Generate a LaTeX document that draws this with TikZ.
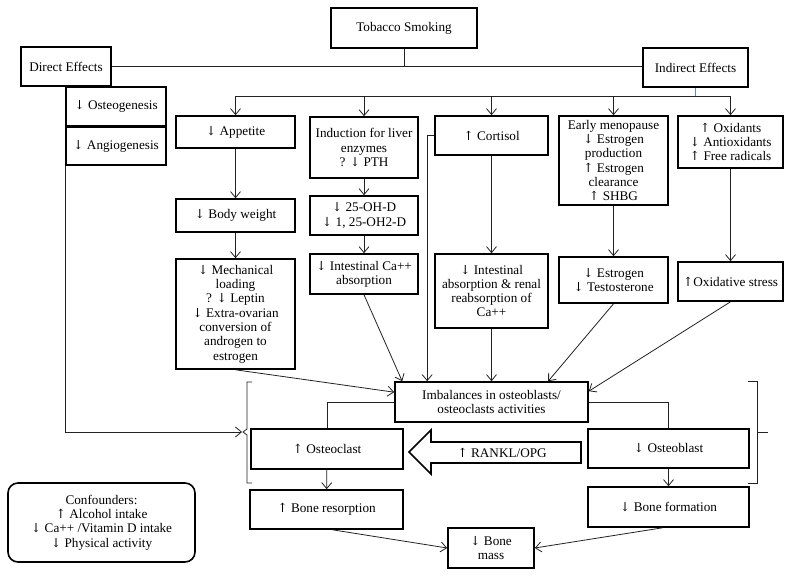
\documentclass[tikz,border=0pt]{standalone}
\usepackage{fontspec}
\usepackage{newunicodechar}
\setmainfont{Liberation Serif}
\newfontfamily\arrfont[Scale=0.95]{DejaVu Serif}
\newunicodechar{↑}{{\arrfont\symbol{"2191}}}
\newunicodechar{↓}{{\arrfont\symbol{"2193}}}
\usetikzlibrary{arrows.meta}
\definecolor{linec}{HTML}{222222}
\definecolor{busblue}{HTML}{5B8DC9}
\tikzset{
  bx/.style={draw=black, line width=1.6pt, align=center, inner sep=1pt,
    font=\fontsize{13.2}{14.3}\selectfont},
  ln/.style={draw=linec, line width=0.8pt},
  arr/.style={ln, -{Straight Barb[length=6pt,width=10pt,line width=0.8pt]}},
}
\begin{document}
\begin{tikzpicture}[x=1pt,y=-1pt]
\useasboundingbox (0,0) rectangle (792,577);
% boxes
\node[bx, minimum width=146, minimum height=40] (tobacco) at (404,28) {Tobacco Smoking};
\node[bx, minimum width=90, minimum height=39] (direct) at (66,66.5) {Direct Effects};
\node[bx, minimum width=105, minimum height=39] (indirect) at (695.5,67.5) {Indirect Effects};
\node[bx, minimum width=100, minimum height=39] (osteo) at (116,106.5) {↓ Osteogenesis};
\node[bx, minimum width=100, minimum height=38] (angio) at (116,146) {↓ Angiogenesis};
\node[bx, minimum width=119, minimum height=32] (appetite) at (235.5,132) {↓ Appetite};
\node[bx, minimum width=108, minimum height=61] (induction) at (364,147.5) {Induction for liver\\enzymes\\? ↓ PTH};
\node[bx, minimum width=113, minimum height=39] (cortisol) at (491.5,135.5) {↑ Cortisol};
\node[bx, minimum width=109, minimum height=89] (meno) at (613.5,160.5) {Early menopause\\↓ Estrogen\\production\\↑ Estrogen\\clearance\\↑ SHBG};
\node[bx, minimum width=105, minimum height=52] (oxid) at (730.5,142) {↑ Oxidants\\↓ Antioxidants\\↑ Free radicals};
\node[bx, minimum width=119, minimum height=33] (bodyw) at (235.5,215.5) {↓ Body weight};
\node[bx, minimum width=108, minimum height=39] (ohd) at (364,215.5) {↓ 25-OH-D\\↓ 1, 25-OH2-D};
\node[bx, minimum width=108, minimum height=40] (intca) at (364,274) {↓ Intestinal Ca++\\absorption};
\node[bx, minimum width=119, minimum height=110] (mech) at (235.5,314) {↓ Mechanical\\loading\\? ↓ Leptin\\↓ Extra-ovarian\\conversion of\\androgen to\\estrogen};
\node[bx, minimum width=113, minimum height=74] (intabs) at (491.5,291) {↓ Intestinal\\absorption \& renal\\reabsorption of\\Ca++};
\node[bx, minimum width=109, minimum height=46] (estro) at (613.5,280) {↓ Estrogen\\↓ Testosterone};
\node[bx, minimum width=105, minimum height=39] (oxstress) at (730.5,281.5) {↑Oxidative stress};
\node[bx, minimum width=193, minimum height=40] (imbal) at (491.5,402) {Imbalances in osteoblasts/\\osteoclasts activities};
\node[bx, minimum width=152, minimum height=40] (osteoclast) at (327,449) {↑ Osteoclast};
\node[bx, minimum width=161, minimum height=39] (osteoblast) at (668.5,448.5) {↓ Osteoblast};
\node[bx, minimum width=153, minimum height=39] (resorption) at (326.5,509.5) {↑ Bone resorption};
\node[bx, minimum width=161, minimum height=40] (formation) at (668.5,507) {↓ Bone formation};
\node[bx, minimum width=86, minimum height=40] (bonemass) at (491,548) {↓ Bone\\mass};
\node[bx, rounded corners=10pt, minimum width=187, minimum height=79] (conf) at (101.5,522.5) {Confounders:\\↑ Alcohol intake\\↓ Ca++ /Vitamin D intake\\↓ Physical activity};
% top connectors
\draw[ln] (direct.east) -- (direct.east -| indirect.west);
\draw[ln] (tobacco.south) -- (tobacco.south |- direct.east);
\coordinate (busL) at (235.5,96);
\coordinate (busR) at (730.5,96);
\draw[busblue, line width=0.8pt] (indirect.south) -- (indirect.south |- busL);
\draw[ln] (busL) -- (busR);
\foreach \n in {appetite,induction,cortisol,meno,oxid}
  \draw[arr] (\n.north |- busL) -- (\n.north);
% chains
\draw[arr] (appetite) -- (bodyw);
\draw[arr] (bodyw) -- (mech);
\draw[arr] (induction) -- (ohd);
\draw[arr] (ohd) -- (intca);
\draw[arr] (cortisol) -- (intabs);
\draw[arr] (meno) -- (estro);
\draw[arr] (oxid) -- (oxstress);
% into imbalances
\draw[arr] (cortisol.west) -| ([xshift=33pt]imbal.north west);
\draw[arr] (mech.south) -- ([yshift=-11pt]imbal.north west);
\draw[arr] (intca.south) -- ([xshift=8pt]imbal.north west);
\draw[arr] (intabs.south) -- (imbal.north);
\draw[arr] (estro.south) -- ([xshift=154pt]imbal.north west);
\draw[arr] (oxstress.south) -- ([yshift=-10pt]imbal.north east);
% imbalances to cells
\draw[ln] (imbal.west) -| (osteoclast.north);
\draw[ln] (imbal.east) -| (osteoblast.north);
\draw[arr] (osteoclast) -- (resorption);
\draw[arr] (osteoblast) -- (formation);
\draw[arr] ([xshift=6pt]resorption.south) -- (bonemass.west);
\draw[arr] ([xshift=-6pt]formation.south) -- (bonemass.east);
% direct effects line
\coordinate (bL) at (242,432);
\draw[arr] (angio.south west) |- (bL);
% brackets
\draw[ln] (252,382) -- (247,382) -- (247,429) -- (243,432) -- (247,435) -- (247,483) -- (252,483);
\draw[ln] (748,381) -- (757,381) -- (757,483) -- (748,483);
\draw[ln] (757,432) -- (768,432);
% RANKL arrow
\draw[draw=black, line width=1.6pt, line join=miter] (409,452) -- (431,430) -- (431,442) -- (581,442) -- (581,463) -- (431,463) -- (431,474) -- cycle;
\node[font=\fontsize{13.2}{14.3}\selectfont] (rankl) at (502,452.5) {↑ RANKL/OPG};
\end{tikzpicture}
\end{document}
